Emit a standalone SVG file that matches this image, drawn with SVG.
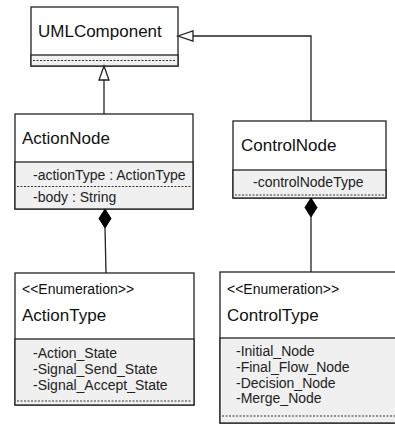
<svg xmlns="http://www.w3.org/2000/svg" width="395" height="424" viewBox="0 0 395 424">
<style>
.box{fill:#ffffff;stroke:#222222;stroke-width:1.3}
.comp{fill:#f0f0f0;stroke:#222222;stroke-width:1.3}
.dash{stroke:#333333;stroke-width:1;stroke-dasharray:2 1.5;fill:none}
.title{font-family:"Liberation Sans",Arial,sans-serif;font-size:17px;fill:#111111}
.attr{font-family:"Liberation Sans",Arial,sans-serif;font-size:14px;fill:#222222}
.stereo{font-family:"Liberation Sans",Arial,sans-serif;font-size:14px;fill:#111111}
.conn{stroke:#222222;stroke-width:1.3;fill:none}
.tri{fill:#ffffff;stroke:#222222;stroke-width:1.3}
.dia{fill:#000000;stroke:#000000;stroke-width:1}
</style>
<g id="UMLComponent">
<rect class="box" x="31" y="7" width="147" height="59"/>
<rect class="comp" x="31" y="55" width="147" height="11"/>
<line class="dash" x1="33" y1="60.5" x2="176" y2="60.5"/>
<text class="title" x="38" y="37">UMLComponent</text>
</g>
<g id="ActionNode">
<rect class="box" x="15" y="114" width="178" height="95"/>
<rect class="comp" x="15" y="162" width="178" height="47"/>
<line class="dash" x1="17" y1="186.5" x2="191" y2="186.5"/>
<text class="title" x="22" y="144">ActionNode</text>
<text class="attr" x="33" y="180">-actionType : ActionType</text>
<text class="attr" x="33" y="202">-body : String</text>
</g>
<g id="ControlNode">
<rect class="box" x="233" y="121" width="153" height="77"/>
<rect class="comp" x="233" y="170" width="153" height="28"/>
<line class="dash" x1="235" y1="195" x2="384" y2="195"/>
<text class="title" x="241" y="151">ControlNode</text>
<text class="attr" x="253" y="187">-controlNodeType</text>
</g>
<g id="ActionType">
<rect class="box" x="15" y="273" width="179" height="132"/>
<rect class="comp" x="15" y="339" width="179" height="66"/>
<line class="dash" x1="17" y1="401" x2="192" y2="401"/>
<text class="stereo" x="22" y="294" font-size="14">&lt;&lt;Enumeration&gt;&gt;</text>
<text class="title" x="22" y="321">ActionType</text>
<text class="attr" x="33" y="358">-Action_State</text>
<text class="attr" x="33" y="374">-Signal_Send_State</text>
<text class="attr" x="33" y="390">-Signal_Accept_State</text>
</g>
<g id="ControlType">
<rect class="box" x="220" y="272" width="180" height="151"/>
<rect class="comp" x="220" y="338" width="180" height="85"/>
<line class="dash" x1="222" y1="416" x2="398" y2="416"/>
<text class="stereo" x="227" y="294">&lt;&lt;Enumeration&gt;&gt;</text>
<text class="title" x="227" y="321">ControlType</text>
<text class="attr" x="236" y="356">-Initial_Node</text>
<text class="attr" x="236" y="372">-Final_Flow_Node</text>
<text class="attr" x="236" y="388">-Decision_Node</text>
<text class="attr" x="236" y="403">-Merge_Node</text>
</g>
<g id="connectors">
<line class="conn" x1="104" y1="114" x2="104" y2="80"/>
<polygon class="tri" points="104,66 99,80 109,80"/>
<polyline class="conn" points="311,121 311,36 193,36"/>
<polygon class="tri" points="178,36 193,31 193,41"/>
<line class="conn" x1="105" y1="228" x2="106" y2="273"/>
<polygon class="dia" points="105,209 111,218.5 105,228 99,218.5"/>
<line class="conn" x1="311" y1="217" x2="311" y2="272"/>
<polygon class="dia" points="311,198 317,207.5 311,217 305,207.5"/>
</g>
</svg>
